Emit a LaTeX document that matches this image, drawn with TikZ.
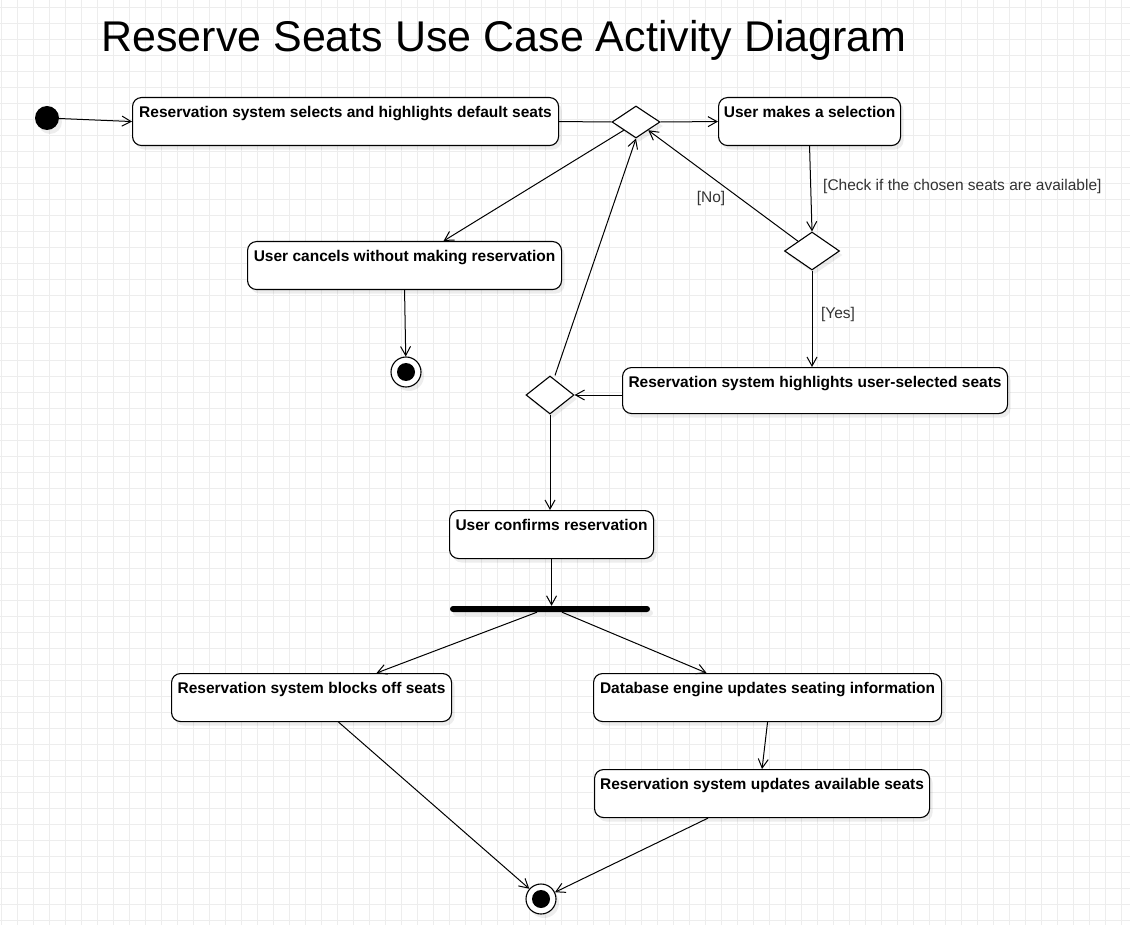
\documentclass[tikz,border=0pt]{standalone}
\usepackage{fontspec}
\setmainfont{Liberation Sans}
\usetikzlibrary{arrows.meta}
\usetikzlibrary{shapes.geometric}
\usetikzlibrary{shadows}
\usetikzlibrary{calc}
\colorlet{gridgray}{black!7}
\colorlet{guardgray}{black!80}

\tikzset{
  softshadow/.style={drop shadow={shadow xshift=3pt,shadow yshift=-4pt,fill=black,opacity=0.07}},
  actbox/.style={draw,line width=1.1pt,rounded corners=9pt,fill=white,softshadow,
    anchor=north west,inner xsep=0pt,inner ysep=0pt,text height=19.5pt,text depth=28.5pt,
    font=\bfseries\fontsize{15.5}{18}\selectfont},
  decision/.style={diamond,draw,line width=1.1pt,fill=white,softshadow,inner sep=0pt},
  startdot/.style={circle,fill=black,minimum size=24pt,inner sep=0pt,softshadow},
  enddot/.style={circle,draw,line width=1.1pt,fill=white,minimum size=30pt,inner sep=0pt,softshadow,
    label={[circle,fill=black,minimum size=18pt,inner sep=0pt]center:{}}},
  flow/.style={line width=1pt,-{Straight Barb[length=9pt,width=10pt]}},
  guard/.style={text=guardgray,font=\fontsize{15.5}{18}\selectfont,inner sep=0pt}
}

\begin{document}
\begin{tikzpicture}[x=1pt,y=-1pt]
  \useasboundingbox (0,0) rectangle (1130,925);
  \fill[white] (0,0) rectangle (1130,925);
  \begin{scope}[shift={(1,8)}]
    \draw[gridgray,line width=1pt,step=16pt] (-16,-16) grid (1140,930);
  \end{scope}

  \node[anchor=base,font=\fontsize{43}{50}\selectfont] (title) at (504,52) {Reserve Seats Use Case Activity Diagram};

  % activities
  \node[startdot] (init) at (47,118) {};
  \node[actbox,minimum width=426pt] (defsel) at (132,97) {Reservation system selects and highlights default seats};
  \node[decision,minimum width=48pt,minimum height=32pt] (dec1) at (636,122) {};
  \node[actbox,minimum width=182pt] (usersel) at (718,97) {User makes a selection};
  \node[decision,minimum width=55pt,minimum height=38pt] (dec2) at (812,251) {};
  \node[actbox,minimum width=314pt] (cancel) at (247,241) {User cancels without making reservation};
  \node[enddot] (fin1) at (406,372) {};
  \node[actbox,minimum width=385pt,text depth=26.5pt] (hilite) at (622,367) {Reservation system highlights user-selected seats};
  \node[decision,minimum width=48pt,minimum height=38pt] (dec3) at (550,395) {};
  \node[actbox,minimum width=204pt] (confirm) at (449,510) {User confirms reservation};
  \node[rectangle,fill=black,rounded corners=3pt,minimum width=200pt,minimum height=6pt,inner sep=0pt,softshadow] (fork) at (550,609) {};
  \node[actbox,minimum width=280pt] (block) at (171,673) {Reservation system blocks off seats};
  \node[actbox,minimum width=348pt] (dbupd) at (593,673) {Database engine updates seating information};
  \node[actbox,minimum width=335pt] (availupd) at (594,769) {Reservation system updates available seats};
  \node[enddot] (fin2) at (541,899) {};

  % guards
  \node[guard,anchor=west] (chk) at (823,186) {[Check if the chosen seats are available]};
  \node[guard] (no) at (711,198) {[No]};
  \node[guard] (yes) at (838,314) {[Yes]};

  % flows
  \draw[flow] (init) -- (defsel.west);
  \draw[line width=1pt] (defsel.east) -- (dec1.west);
  \draw[flow] (dec1.east) -- (usersel.west);
  \draw[flow] (usersel.south) -- (dec2.north);
  \draw[flow] (dec2.north west) -- (dec1.south east);
  \draw[flow] (dec2.south) -- (dec2.south |- hilite.north);
  \draw[flow] (dec1.south west) -- ($(cancel.north)+(39,0)$);
  \draw[flow] (cancel.south) -- (fin1);
  \draw[flow] (dec3.east -| hilite.west) -- (dec3.east);
  \draw[flow] ($(dec3.north)+(5,0)$) -- (dec1.south);
  \draw[flow] (dec3.south) -- (dec3.south |- confirm.north);
  \draw[flow] (confirm.south) -- (confirm.south |- fork.north);
  \draw[flow] ($(fork.south)+(-13,0)$) -- ($(block.north)+(65,0)$);
  \draw[flow] ($(fork.south)+(12,0)$) -- ($(dbupd.north)+(-61,0)$);
  \draw[flow] (dbupd.south) -- (availupd.north);
  \draw[flow] ($(block.south)+(27,0)$) -- (fin2);
  \draw[flow] ($(availupd.south)+(-54,0)$) -- (fin2);
\end{tikzpicture}
\end{document}
